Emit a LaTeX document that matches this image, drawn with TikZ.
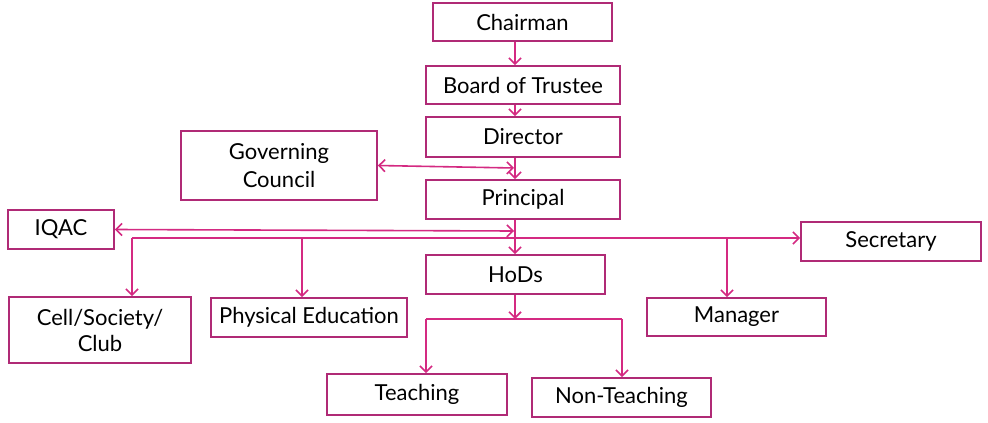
\documentclass[tikz,border=0pt]{standalone}
\usepackage{fontspec}
\setmainfont{Lato}
\usetikzlibrary{arrows.meta}
\definecolor{boxc}{RGB}{176,42,118}
\definecolor{linec}{RGB}{212,42,130}
\begin{document}
\begin{tikzpicture}[x=1pt,y=-1pt,
  box/.style={draw=boxc, line width=1.8pt, inner sep=0pt, align=center,
    font=\fontsize{22}{28}\selectfont},
  conn/.style={draw=linec, line width=1.6pt},
  arr/.style={conn, -{Straight Barb[length=6pt,width=12pt]}},
  darr/.style={conn, {Straight Barb[length=6pt,width=12pt]}-{Straight Barb[length=6pt,width=12pt]}}]
\useasboundingbox[fill=white] (0,0) rectangle (988,423);
\node[box, minimum width=179pt, minimum height=38pt] (chair) at (522.5,22) {Chairman};
\node[box, minimum width=194pt, minimum height=38pt] (board) at (523,85) {Board of Trustee};
\node[box, minimum width=194pt, minimum height=40pt] (dir) at (523,137) {Director};
\node[box, minimum width=196pt, minimum height=69pt] (gov) at (279,165.5) {Governing\\Council};
\node[box, minimum width=194pt, minimum height=39pt] (prin) at (523,199.5) {Principal};
\node[box, minimum width=106pt, minimum height=39pt] (iqac) at (61,229.5) {IQAC};
\node[box, minimum width=180pt, minimum height=39pt] (sec) at (891,241.5) {Secretary};
\node[box, minimum width=179pt, minimum height=39pt] (hods) at (515.5,274.5) {HoDs};
\node[box, minimum width=182pt, minimum height=66pt, font=\fontsize{22}{26}\selectfont] (cell) at (100,330) {Cell/Society/\\Club};
\node[box, minimum width=196pt, minimum height=39pt] (pe) at (309,317.5) {Physical Education};
\node[box, minimum width=179pt, minimum height=38pt] (mgr) at (736.5,317) {Manager};
\node[box, minimum width=180pt, minimum height=41pt] (teach) at (417,394.5) {Teaching};
\node[box, minimum width=179pt, minimum height=39pt] (nont) at (621.5,397.5) {Non-Teaching};
\coordinate (vx) at (515,0);
\coordinate (gp) at (514,168);
\coordinate (ip) at (514,231);
\coordinate (busL) at (132,238);
\coordinate (pd) at (302,238);
\coordinate (md) at (727,238);
\coordinate (hb) at (515,319);
\coordinate (tl) at (426,319);
\coordinate (tr) at (622,319);
\draw[arr] (vx |- chair.south) -- (vx |- board.north);
\draw[arr] (vx |- board.south) -- (vx |- dir.north);
\draw[arr] (vx |- dir.south) -- (vx |- prin.north);
\draw[darr] (gov.east) -- (gp);
\draw[arr] (vx |- prin.south) -- (vx |- hods.north);
\draw[darr] (iqac.east) -- (ip);
\draw[arr] (busL) -- (busL -| sec.west);
\draw[arr] (busL) -- (busL |- cell.north);
\draw[arr] (pd) -- (pd |- pe.north);
\draw[arr] (md) -- (md |- mgr.north);
\draw[arr] (vx |- hods.south) -- (hb);
\draw[conn] (tl) -- (tr);
\draw[arr] (tl) -- (tl |- teach.north);
\draw[arr] (tr) -- (tr |- nont.north);
\end{tikzpicture}
\end{document}
